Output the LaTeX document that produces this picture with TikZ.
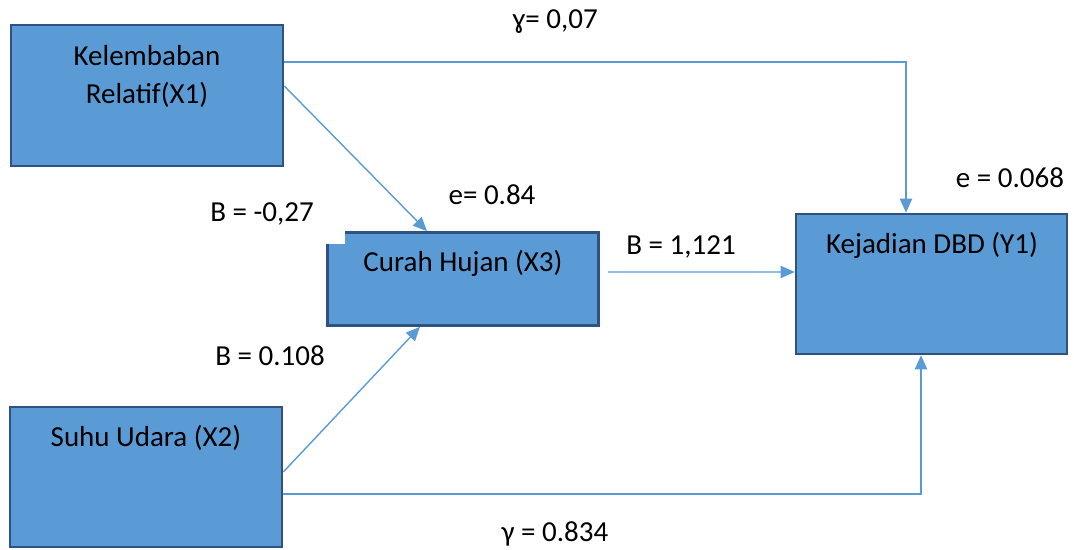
\documentclass[tikz,border=0pt]{standalone}
\usepackage{fontspec}
\setmainfont{Carlito}
\usetikzlibrary{arrows.meta}

\definecolor{boxfill}{HTML}{5B9BD5}
\definecolor{boxline}{HTML}{2F5280}
\definecolor{pathline}{HTML}{5B9BD5}

\begin{document}
\begin{tikzpicture}[x=0.02cm, y=-0.02cm,
  font=\fontsize{16.5}{21.6}\selectfont,
  var node/.style={rectangle, draw=boxline, fill=boxfill, line width=1.5pt, inner sep=0pt},
  path line/.style={draw=pathline, line width=0.8pt, -{Triangle[length=8pt, width=7pt]}},
  coef/.style={inner sep=0pt}]

\useasboundingbox (0,0) rectangle (1074,550);

% variabel
\node[var node, minimum width=5.44cm, minimum height=2.82cm](x1) at (147,95.5) {};
\node[var node, minimum width=5.42cm, minimum height=1.86cm](x3) at (463,279) {};
\node[var node, minimum width=5.42cm, minimum height=2.80cm](y1) at (931.5,284) {};
\node[var node, minimum width=5.44cm, minimum height=2.80cm](x2) at (146,477) {};
\fill[white] (326,231) rectangle (345,244);

\node[align=center](x1 text) at (147,76) {Kelembaban\\Relatif(X1)};
\node(x3 text) at (463,263) {Curah Hujan (X3)};
\node(y1 text) at (932,245) {Kejadian DBD (Y1)};
\node(x2 text) at (146,438) {Suhu Udara (X2)};

% jalur
\draw[path line] ([yshift=0.67cm]x1.east) -| ([xshift=-0.51cm]y1.north);
\draw[path line] ([yshift=0.19cm]x1.east) -- ([xshift=-0.72cm]x3.north);
\draw[path line] ([yshift=0.1cm]x2.east) -- ([xshift=-0.86cm]x3.south);
\draw[path line] ([xshift=0.16cm, yshift=0.14cm]x3.east) -- ([yshift=0.24cm]y1.west);
\draw[path line] ([yshift=-0.34cm]x2.east) -| ([xshift=-0.21cm]y1.south);

% koefisien
\node[coef](g1) at (555,22) {ɣ= 0,07};
\node[coef](e1) at (1010,178) {e = 0.068};
\node[coef](e3) at (492,195) {e= 0.84};
\node[coef](b13) at (262,214) {B = -0,27};
\node[coef](b3y) at (681,247) {B = 1,121};
\node[coef](b23) at (270,356) {B = 0.108};
\node[coef](g2) at (555,534) {γ = 0.834};

\end{tikzpicture}
\end{document}
